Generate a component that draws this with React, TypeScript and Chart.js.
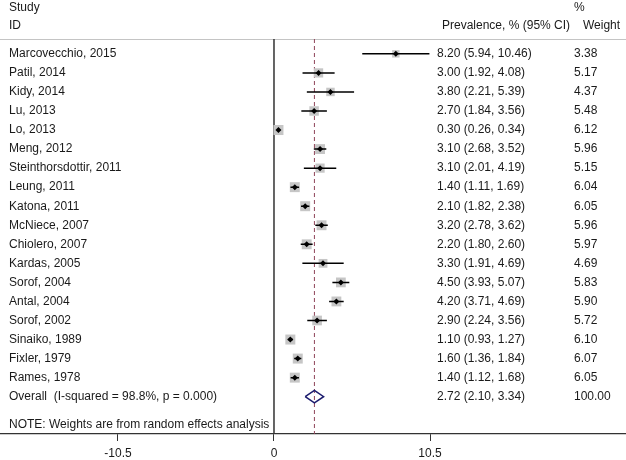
import React, { useEffect, useRef } from "react";
import { Chart, registerables } from "chart.js";

Chart.register(...registerables);

const studies = [
  "Marcovecchio, 2015",
  "Patil, 2014",
  "Kidy, 2014",
  "Lu, 2013",
  "Lo, 2013",
  "Meng, 2012",
  "Steinthorsdottir, 2011",
  "Leung, 2011",
  "Katona, 2011",
  "McNiece, 2007",
  "Chiolero, 2007",
  "Kardas, 2005",
  "Sorof, 2004",
  "Antal, 2004",
  "Sorof, 2002",
  "Sinaiko, 1989",
  "Fixler, 1979",
  "Rames, 1978",
];
const estimates = [8.2, 3.0, 3.8, 2.7, 0.3, 3.1, 3.1, 1.4, 2.1, 3.2, 2.2, 3.3, 4.5, 4.2, 2.9, 1.1, 1.6, 1.4];
const lowerCI = [5.94, 1.92, 2.21, 1.84, 0.26, 2.68, 2.01, 1.11, 1.82, 2.78, 1.8, 1.91, 3.93, 3.71, 2.24, 0.93, 1.36, 1.12];
const upperCI = [10.46, 4.08, 5.39, 3.56, 0.34, 3.52, 4.19, 1.69, 2.38, 3.62, 2.6, 4.69, 5.07, 4.69, 3.56, 1.27, 1.84, 1.68];
const weights = [3.38, 5.17, 4.37, 5.48, 6.12, 5.96, 5.15, 6.04, 6.05, 5.96, 5.97, 4.69, 5.83, 5.9, 5.72, 6.1, 6.07, 6.05];

const overallLabel = "Overall  (I-squared = 98.8%, p = 0.000)";
const overallEstimate = 2.72;
const overallLower = 2.1;
const overallUpper = 3.34;
const overallWeight = "100.00";
const noteText = "NOTE: Weights are from random effects analysis";
const xTicks = [-10.5, 0, 10.5];

const X_MIN = -18.44;
const X_MAX = 23.69;
const Y_MIN = -0.78;
const Y_MAX = 19.96;
const FONT = "'Liberation Sans', Arial, sans-serif";

export default function App() {
  const ref = useRef<HTMLCanvasElement | null>(null);

  useEffect(() => {
    if (!ref.current) return;
    const n = studies.length;
    const overallRow = n;
    const noteRow = n + 1.49;

    const ciData: any[] = [];
    estimates.forEach((_, i) => {
      ciData.push({ x: lowerCI[i], y: i });
      ciData.push({ x: upperCI[i], y: i });
      ciData.push({ x: upperCI[i], y: null });
    });

    const boxData = estimates.map((e, i) => ({ x: e, y: i }));
    const boxRadius = weights.map((w) => (4.05 * Math.sqrt(w)) / Math.SQRT2);

    const dh = 0.33;
    const diamond = [
      { x: overallLower, y: overallRow },
      { x: overallEstimate, y: overallRow - dh },
      { x: overallUpper, y: overallRow },
      { x: overallEstimate, y: overallRow + dh },
      { x: overallLower, y: overallRow },
    ];

    const textPlugin = {
      id: "forestText",
      afterDraw(chart: any) {
        const ctx = chart.ctx;
        const ys = chart.scales.y;
        ctx.save();
        ctx.fillStyle = "#1a1a1a";
        ctx.font = `12px ${FONT}`;
        ctx.textBaseline = "middle";
        ctx.textAlign = "left";
        // headers
        ctx.fillText("Study", 9, 8);
        ctx.fillText("ID", 9, 26);
        ctx.fillText("%", 574, 8);
        ctx.fillText("Prevalence, % (95% CI)", 442, 26);
        ctx.fillText("Weight", 583, 26);
        studies.forEach((s, i) => {
          const y = ys.getPixelForValue(i);
          ctx.fillText(s, 9, y);
          ctx.fillText(
            `${estimates[i].toFixed(2)} (${lowerCI[i].toFixed(2)}, ${upperCI[i].toFixed(2)})`,
            437,
            y
          );
          ctx.fillText(weights[i].toFixed(2), 574, y);
        });
        const oy = ys.getPixelForValue(overallRow);
        ctx.fillText(overallLabel, 9, oy);
        ctx.fillText(
          `${overallEstimate.toFixed(2)} (${overallLower.toFixed(2)}, ${overallUpper.toFixed(2)})`,
          437,
          oy
        );
        ctx.fillText(overallWeight, 574, oy);
        ctx.fillText(noteText, 9, ys.getPixelForValue(noteRow));
        ctx.restore();
      },
    };

    const chart = new Chart(ref.current, {
      type: "scatter",
      data: {
        datasets: [
          {
            // top rule
            type: "line",
            data: [
              { x: X_MIN, y: Y_MIN },
              { x: X_MAX, y: Y_MIN },
            ],
            borderColor: "#c4c4c4",
            borderWidth: 2,
            pointRadius: 0,
            order: 10,
          } as any,
          {
            // zero line
            type: "line",
            data: [
              { x: 0, y: Y_MIN },
              { x: 0, y: Y_MAX },
            ],
            borderColor: "#333333",
            borderWidth: 1.5,
            pointRadius: 0,
            order: 9,
          },
          {
            // overall dashed line
            type: "line",
            data: [
              { x: overallEstimate, y: Y_MIN },
              { x: overallEstimate, y: Y_MAX },
            ],
            borderColor: "#8e4458",
            borderWidth: 1,
            borderDash: [4, 3],
            pointRadius: 0,
            order: 8,
          },
          {
            // weight boxes
            data: boxData,
            pointStyle: "rect",
            pointRadius: boxRadius,
            backgroundColor: "#c6c6c6",
            borderWidth: 0,
            borderColor: "#c6c6c6",
            order: 5,
          },
          {
            // CI lines
            type: "line",
            data: ciData,
            borderColor: "#000000",
            borderWidth: 1.5,
            pointRadius: 0,
            spanGaps: false,
            order: 4,
          },
          {
            // point estimates
            data: boxData,
            pointStyle: "rectRot",
            pointRadius: 3,
            backgroundColor: "#000000",
            borderColor: "#000000",
            borderWidth: 0,
            order: 3,
          },
          {
            // overall diamond
            type: "line",
            data: diamond,
            borderColor: "#1c1c6e",
            borderWidth: 1.5,
            pointRadius: 0,
            fill: false,
            order: 2,
          },
        ],
      },
      options: {
        animation: false,
        responsive: false,
        devicePixelRatio: 1,
        layout: { autoPadding: false, padding: { top: 39, left: 0, right: 0, bottom: 0 } },
        plugins: {
          legend: { display: false },
          tooltip: { enabled: false },
        },
        scales: {
          x: {
            type: "linear",
            min: X_MIN,
            max: X_MAX,
            afterBuildTicks: (scale: any) => {
              scale.ticks = xTicks.map((v) => ({ value: v }));
            },
            afterFit: (scale: any) => {
              scale.height = 26;
            },
            ticks: {
              color: "#1a1a1a",
              font: { family: FONT, size: 12 },
              padding: 5,
              maxRotation: 0,
              autoSkip: false,
              callback: (v: any) => String(v),
            },
            grid: {
              drawOnChartArea: false,
              drawTicks: true,
              tickLength: 7,
              color: "#333333",
              lineWidth: 1,
            },
            border: { display: true, color: "#333333", width: 1.2 },
          },
          y: {
            type: "linear",
            display: false,
            min: Y_MIN,
            max: Y_MAX,
            reverse: true,
          },
        },
      },
      plugins: [textPlugin],
    } as any);

    return () => chart.destroy();
  }, []);

  return (
    <div style={{ position: "fixed", left: 0, top: 0, width: 626, height: 460, background: "#fff" }}>
      <canvas ref={ref} width={626} height={460} />
    </div>
  );
}
